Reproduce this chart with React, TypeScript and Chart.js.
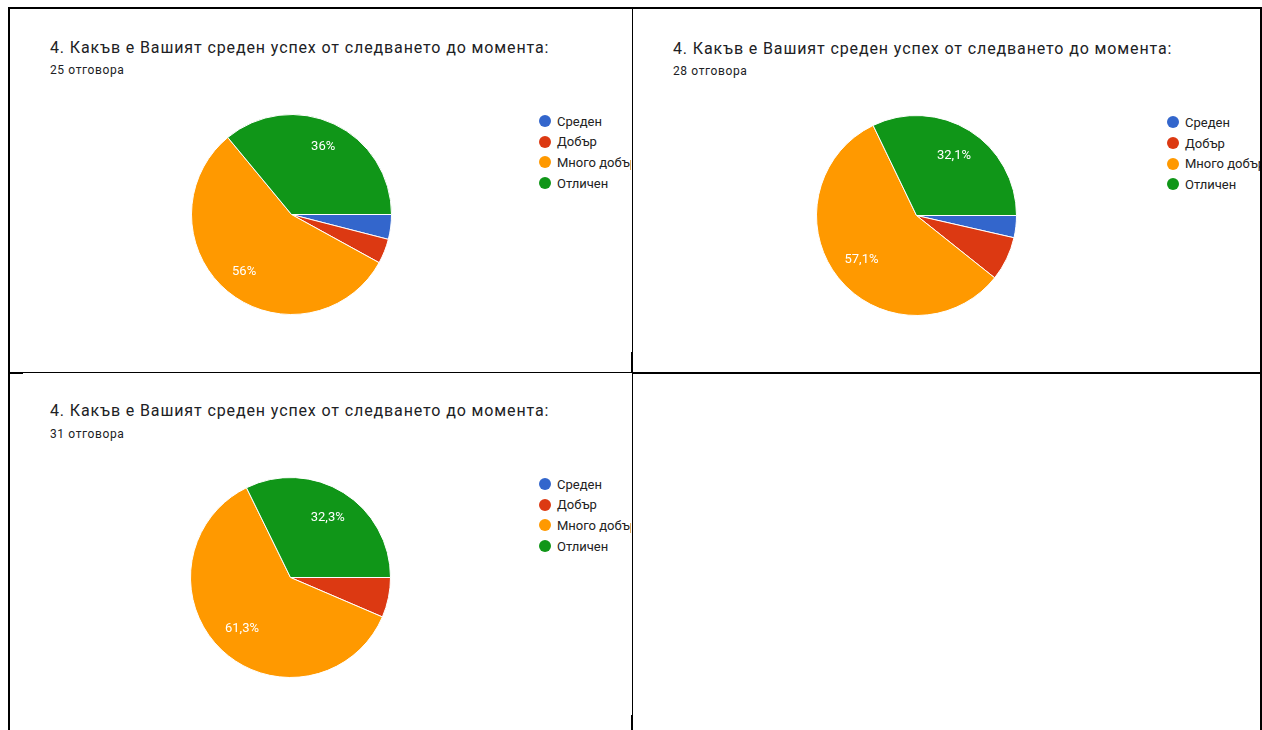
import React, { useEffect, useRef } from "react";
import { Chart, registerables } from "chart.js";

Chart.register(...registerables);

// ---------- data ----------
const categories = ["Среден", "Добър", "Много добър", "Отличен"];
const sliceColors = ["#3366cc", "#dc3912", "#ff9900", "#109618"];
const counts1 = [1, 1, 14, 9];
const counts2 = [1, 2, 16, 9];
const counts3 = [0, 2, 19, 10];
const questionTitle = "4. Какъв е Вашият среден успех от следването до момента:";
const responseLabels = ["25 отговора", "28 отговора", "31 отговора"];
const labelThresholdPct = 10;

// ---------- layout ----------
type PanelLayout = {
  rect: { left: number; top: number; width: number; height: number };
  titleLeft: number;
  titleTop: number;
  subTop: number;
  cx: number;
  cy: number;
  legendDotX: number;
  legendTextX: number;
  legendY0: number;
};

const R = 100;
const legendStep = 20.7;

const panels: { counts: number[]; sub: string; layout: PanelLayout }[] = [
  {
    counts: counts1,
    sub: responseLabels[0],
    layout: {
      rect: { left: 10, top: 9, width: 621, height: 363 },
      titleLeft: 50,
      titleTop: 38,
      subTop: 62,
      cx: 291,
      cy: 214,
      legendDotX: 545,
      legendTextX: 557,
      legendY0: 121,
    },
  },
  {
    counts: counts2,
    sub: responseLabels[1],
    layout: {
      rect: { left: 633, top: 9, width: 627, height: 363 },
      titleLeft: 673,
      titleTop: 39,
      subTop: 63,
      cx: 916,
      cy: 215,
      legendDotX: 1172.5,
      legendTextX: 1185,
      legendY0: 122.3,
    },
  },
  {
    counts: counts3,
    sub: responseLabels[2],
    layout: {
      rect: { left: 10, top: 374, width: 621, height: 356 },
      titleLeft: 50,
      titleTop: 401,
      subTop: 426,
      cx: 290,
      cy: 577,
      legendDotX: 545,
      legendTextX: 557,
      legendY0: 484,
    },
  },
];

function fmtPct(p: number): string {
  const v = Math.round(p * 10) / 10;
  return String(v).replace(".", ",") + "%";
}

const pctLabelPlugin = {
  id: "pctLabels",
  afterDatasetsDraw(chart: any) {
    const ctx = chart.ctx as CanvasRenderingContext2D;
    const meta = chart.getDatasetMeta(0);
    const data = chart.data.datasets[0].data as number[];
    const total = data.reduce((a, b) => a + b, 0);
    ctx.save();
    ctx.font = "13px Roboto";
    ctx.fillStyle = "#ffffff";
    ctx.textAlign = "center";
    ctx.textBaseline = "middle";
    meta.data.forEach((arc: any, i: number) => {
      const pct = (data[i] / total) * 100;
      if (pct < labelThresholdPct) return;
      const txt = fmtPct(pct);
      const p = arc.getProps(["x", "y", "startAngle", "endAngle", "outerRadius"], true);
      const mid = (p.startAngle + p.endAngle) / 2;
      const w = ctx.measureText(txt).width;
      const d = p.outerRadius * 0.84 - w * 0.4;
      ctx.fillText(txt, p.x + Math.cos(mid) * d, p.y + Math.sin(mid) * d);
    });
    ctx.restore();
  },
};

function Pie({ counts, size }: { counts: number[]; size: number }) {
  const ref = useRef<HTMLCanvasElement | null>(null);
  useEffect(() => {
    if (!ref.current) return;
    const chart = new Chart(ref.current, {
      type: "pie",
      data: {
        labels: categories,
        datasets: [
          {
            data: counts,
            backgroundColor: sliceColors,
            borderColor: "#ffffff",
            borderWidth: 1,
          },
        ],
      },
      options: {
        responsive: false,
        maintainAspectRatio: false,
        animation: false,
        rotation: 90,
        events: [],
        layout: { padding: 0 },
        plugins: {
          legend: { display: false },
          tooltip: { enabled: false },
        },
      },
      plugins: [pctLabelPlugin],
    });
    return () => chart.destroy();
  }, [counts]);
  return <canvas ref={ref} width={size} height={size} style={{ width: size, height: size, display: "block" }} />;
}

function Panel({ counts, sub, layout }: { counts: number[]; sub: string; layout: PanelLayout }) {
  const { rect } = layout;
  const ox = rect.left;
  const oy = rect.top;
  const size = 2 * R + 1;
  return (
    <div
      style={{
        position: "absolute",
        left: rect.left,
        top: rect.top,
        width: rect.width,
        height: rect.height,
        overflow: "hidden",
        background: "#fff",
      }}
    >
      <div
        style={{
          position: "absolute",
          left: layout.titleLeft - ox,
          top: layout.titleTop - oy,
          fontFamily: "Roboto, sans-serif",
          fontSize: 16,
          letterSpacing: "0.88px",
          lineHeight: "20px",
          color: "#202124",
          whiteSpace: "nowrap",
        }}
      >
        {questionTitle}
      </div>
      <div
        style={{
          position: "absolute",
          left: layout.titleLeft - ox,
          top: layout.subTop - oy,
          fontFamily: "Roboto, sans-serif",
          fontSize: 12,
          letterSpacing: "0.62px",
          lineHeight: "16px",
          color: "#202124",
          whiteSpace: "nowrap",
        }}
      >
        {sub}
      </div>
      <div
        style={{
          position: "absolute",
          left: layout.cx - size / 2 - ox,
          top: layout.cy - size / 2 - oy,
        }}
      >
        <Pie counts={counts} size={size} />
      </div>
      {categories.map((c, i) => {
        const cy = layout.legendY0 + i * legendStep;
        return (
          <React.Fragment key={c}>
            <div
              style={{
                position: "absolute",
                left: layout.legendDotX - 6 - ox,
                top: cy - 6 - oy,
                width: 12,
                height: 12,
                borderRadius: "50%",
                background: sliceColors[i],
              }}
            />
            <div
              style={{
                position: "absolute",
                left: layout.legendTextX - ox,
                top: cy - 9.5 - oy,
                fontFamily: "Roboto, sans-serif",
                fontSize: 13,
                lineHeight: "20px",
                color: "#222222",
                whiteSpace: "nowrap",
              }}
            >
              {c}
            </div>
          </React.Fragment>
        );
      })}
    </div>
  );
}

function Line({ l, t, w, h }: { l: number; t: number; w: number; h: number }) {
  return <div style={{ position: "absolute", left: l, top: t, width: w, height: h, background: "#000" }} />;
}

export default function App() {
  return (
    <div
      style={{
        position: "fixed",
        left: 0,
        top: 0,
        width: 1262,
        height: 730,
        background: "#fff",
        overflow: "hidden",
      }}
    >
      {panels.map((p, i) => (
        <Panel key={i} counts={p.counts} sub={p.sub} layout={p.layout} />
      ))}
      {/* table borders */}
      <Line l={8} t={7} w={1254} h={2} />
      <Line l={8} t={7} w={2} h={723} />
      <Line l={1260} t={7} w={2} h={723} />
      <Line l={632} t={7} w={1} h={723} />
      <Line l={631} t={352} w={2} h={21} />
      <Line l={631} t={715} w={2} h={15} />
      <Line l={9} t={372} w={623} h={1} />
      <Line l={10} t={372} w={13} h={2} />
      <Line l={632} t={372} w={630} h={2} />
    </div>
  );
}
